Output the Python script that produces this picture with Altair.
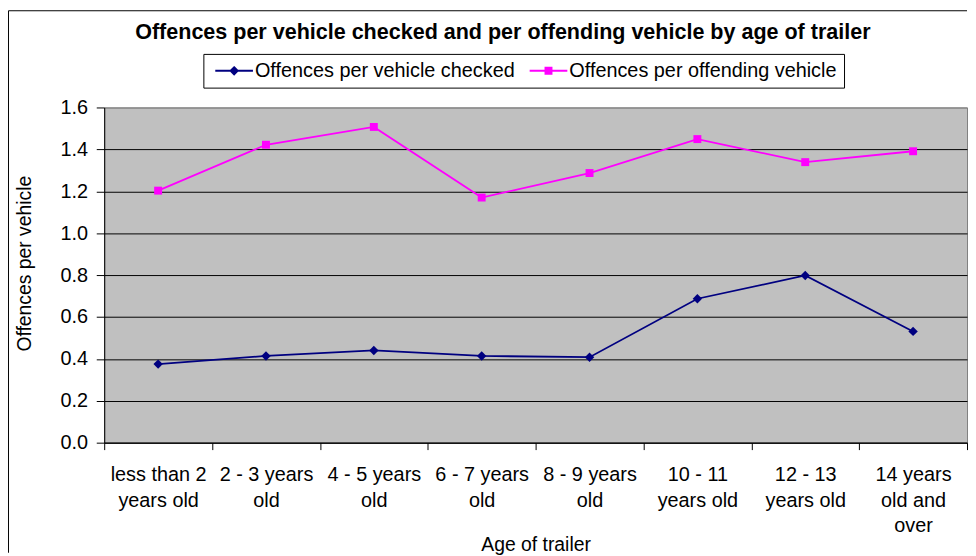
import altair as alt
import pandas as pd

# ---- data ----
CATEGORIES = [
    "less than 2\nyears old",
    "2 - 3 years\nold",
    "4 - 5 years\nold",
    "6 - 7 years\nold",
    "8 - 9 years\nold",
    "10 - 11\nyears old",
    "12 - 13\nyears old",
    "14 years\nold and\nover",
]
SERIES = ["Offences per vehicle checked", "Offences per offending vehicle"]
PER_CHECKED = [0.375, 0.414, 0.440, 0.414, 0.408, 0.687, 0.798, 0.531]
PER_OFFENDING = [1.203, 1.422, 1.507, 1.170, 1.287, 1.449, 1.339, 1.391]
Y_TICKS = [0.0, 0.2, 0.4, 0.6, 0.8, 1.0, 1.2, 1.4, 1.6]

COLORS = ["#000080", "#FF00FF"]
FONT = "Liberation Sans"

rows = []
for c, a, b in zip(CATEGORIES, PER_CHECKED, PER_OFFENDING):
    rows.append({"age": c, "series": SERIES[0], "value": a})
    rows.append({"age": c, "series": SERIES[1], "value": b})
df = pd.DataFrame(rows)

W, H = 870, 338

color_scale = alt.Scale(domain=SERIES, range=COLORS)
legend_shapes = alt.Scale(
    domain=SERIES,
    range=[
        "M-1,0H6.6M2.8,-0.7L3.5,0L2.8,0.7L2.1,0ZM2.8,-0.35L3.15,0L2.8,0.35L2.45,0Z",
        "M-1,0H6.6M2.2,-0.6H3.4V0.6H2.2ZM2.5,-0.3H3.1V0.3H2.5Z",
    ],
)

x_enc = alt.X(
    "age:N",
    sort=CATEGORIES,
    bandPosition=0.5,
    scale=alt.Scale(type="band", paddingInner=0, paddingOuter=0),
    axis=alt.Axis(
        title="Age of trailer",
        labelExpr="split(datum.label, '\\n')",
        labelAngle=0,
        labelFont=FONT,
        labelFontSize=20,
        labelColor="black",
        labelLineHeight=25.7,
        labelBaseline="alphabetic",
        labelPadding=31.5,
        labelLimit=200,
        tickBand="extent",
        tickSize=7,
        tickColor="black",
        domainColor="black",
        grid=False,
        titleFont=FONT,
        titleFontSize=19.5,
        titleFontWeight="normal",
        titleColor="black",
        titleX=W / 2,
        titleY=109,
        titleAlign="center",
        titleBaseline="alphabetic",
    ),
)
y_enc = alt.Y(
    "value:Q",
    scale=alt.Scale(domain=[0, 1.6], nice=False, zero=True),
    axis=alt.Axis(
        title="Offences per vehicle",
        values=Y_TICKS,
        format=".1f",
        labelFont=FONT,
        labelFontSize=20,
        labelColor="black",
        labelPadding=8.7,
        tickSize=8,
        tickColor="black",
        domainColor="black",
        gridColor={"condition": {"test": "datum.value >= 1.6", "value": "#808080"}, "value": "black"},
        gridWidth=1,
        gridOpacity=1,
        titleFont=FONT,
        titleFontSize=19.5,
        titleFontWeight="normal",
        titleColor="black",
        titleAngle=270,
        titleX=-80,
        titleY=157,
        titleAlign="center",
        titleBaseline="middle",
    ),
)

base = alt.Chart(df)
one_row = (alt.datum.series == SERIES[0]) & (alt.datum.value == PER_CHECKED[0])

# outer chart border (decoration): left and top edges
frame_left = base.transform_filter(one_row).mark_rule(color="black", strokeWidth=1).encode(
    x=alt.value(-96.5), y=alt.value(-97.5), y2=alt.value(H + 111)
)
frame_top = base.transform_filter(one_row).mark_rule(color="black", strokeWidth=1).encode(
    x=alt.value(-96.5), x2=alt.value(W), y=alt.value(-97.5)
)

lines = base.mark_line(strokeWidth=1.8).encode(
    x=x_enc,
    y=y_enc,
    color=alt.Color("series:N", scale=color_scale, legend=None),
    detail="series:N",
)

pts_d = base.transform_filter(alt.datum.series == SERIES[0]).mark_point(
    shape="diamond", filled=True, size=90, opacity=1
).encode(x=x_enc, y=y_enc, color=alt.Color("series:N", scale=color_scale, legend=None))

pts_s = base.transform_filter(alt.datum.series == SERIES[1]).mark_point(
    shape="square", filled=True, size=64, opacity=1
).encode(x=x_enc, y=y_enc, color=alt.Color("series:N", scale=color_scale, legend=None))

LEG_COMMON = dict(
    title=None,
    orient="none",
    legendX=100,
    legendY=-54,
    direction="horizontal",
    padding=7,
    columnPadding=9,
    labelFont=FONT,
    labelFontSize=20,
    labelLimit=400,
    labelOffset=25,
    symbolSize=100,
    symbolStrokeWidth=2,
)
leg = alt.Legend(strokeColor="black", labelColor="black", symbolOpacity=1, **LEG_COMMON)
leg_hidden = alt.Legend(labelColor="transparent", symbolOpacity=0, **LEG_COMMON)

legend_layer = base.transform_filter("false").mark_point(filled=True, strokeWidth=2, opacity=1).encode(
    x=x_enc,
    y=y_enc,
    color=alt.Color("series:N", scale=color_scale, legend=leg_hidden),
    stroke=alt.Stroke("series:N", scale=color_scale, legend=leg),
    shape=alt.Shape("series:N", scale=legend_shapes, legend=leg),
)

chart = (
    alt.layer(frame_left, frame_top, lines, pts_d, pts_s, legend_layer)
    .resolve_legend(color="independent")
    .properties(
        width=W,
        height=H,
        padding=0,
        background="white",
        title=alt.TitleParams(
            "Offences per vehicle checked and per offending vehicle by age of trailer",
            font=FONT,
            fontSize=21.7,
            fontWeight="bold",
            color="black",
            anchor="middle",
            frame="group",
            dx=-33,
            baseline="alphabetic",
            offset=0,
            dy=51,
        ),
    )
    .configure_view(stroke="#808080", strokeWidth=1, fill="#C0C0C0")
)

chart.save("out.html", embed_options={"renderer": "svg", "actions": False})
